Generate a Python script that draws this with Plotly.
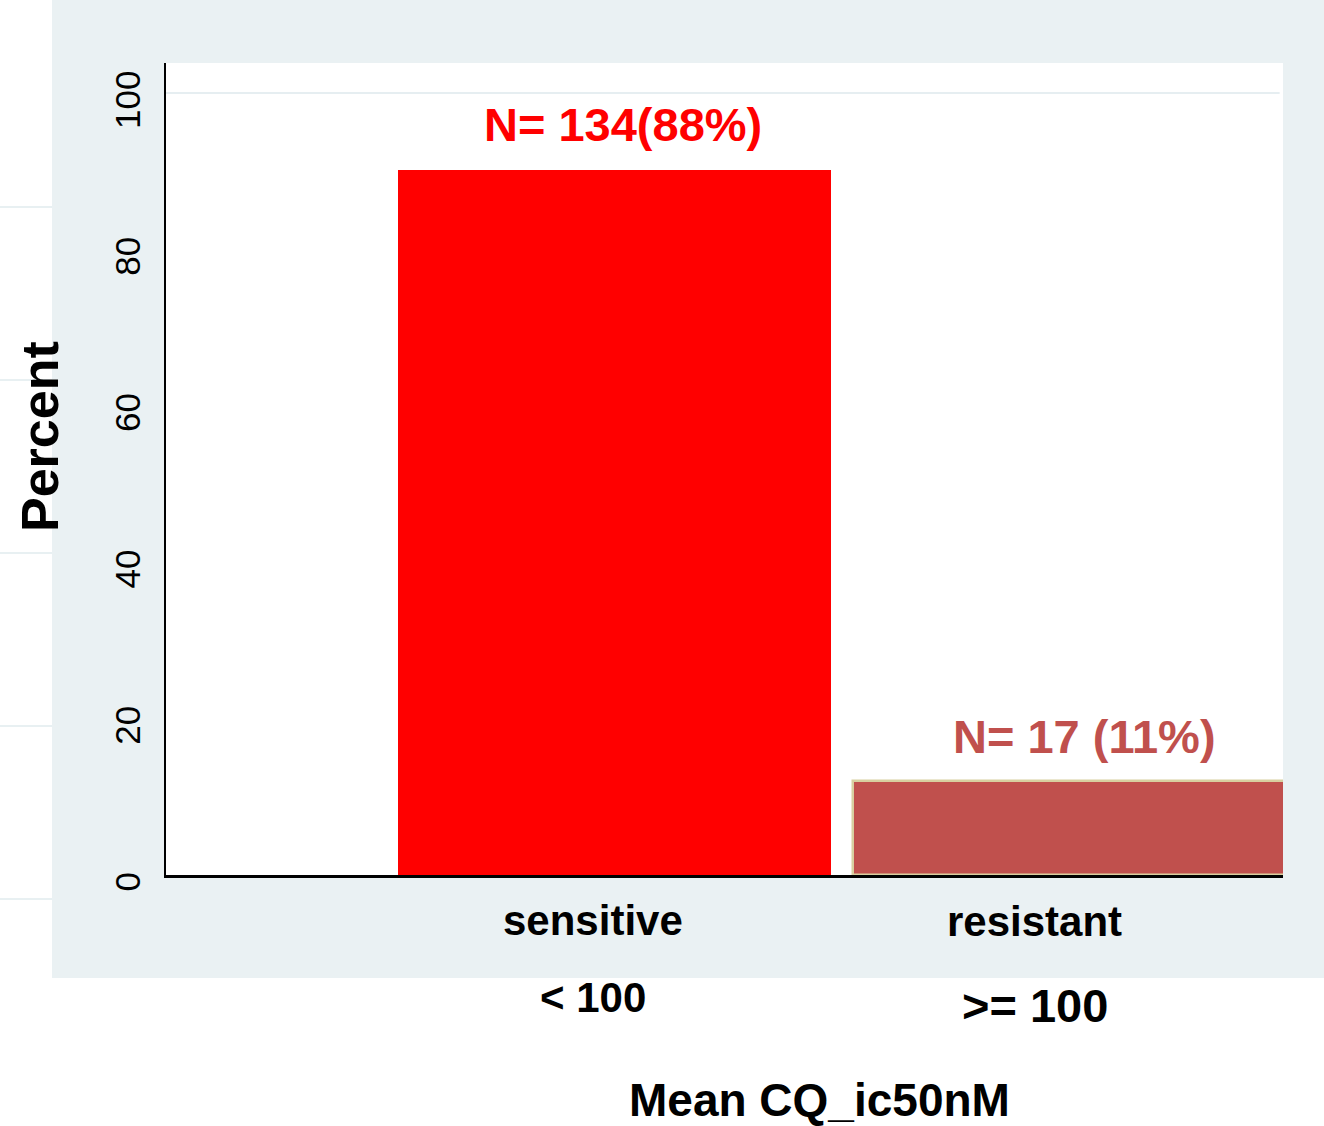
import plotly.graph_objects as go

categories = ["sensitive", "resistant"]
thresholds = ["< 100", ">= 100"]
percent = [90.2, 12.0]
bar_labels = ["N= 134(88%)", "N= 17 (11%)"]
y_ticks = [0, 20, 40, 60, 80, 100]

W, H = 1324, 1126
L, R, T, B = 166, 1283, 63, 875
pw, ph = R - L, B - T

def px(x):
    return (x - L) / pw

def py(y):
    return (B - y) / ph

FONT = "Arial, Liberation Sans, sans-serif"
bar_colors = ["#FF0000", "#C0504D"]
line_colors = ["#FF0000", "#D8CFA0"]
label_colors = ["#FF0000", "#C0504D"]

fig = go.Figure()
fig.add_trace(go.Bar(
    x=categories, y=percent, width=0.952,
    marker=dict(color=bar_colors, line=dict(color=line_colors, width=[0, 2.5])),
    showlegend=False, hoverinfo="skip", cliponaxis=False,
))

shapes = [
    dict(type="rect", xref="paper", yref="paper", x0=px(52), x1=px(1324 + 5), y0=py(978), y1=py(0 - 5),
         fillcolor="#EAF1F3", line=dict(width=0), layer="below"),
    dict(type="rect", xref="paper", yref="paper", x0=0, x1=1, y0=0, y1=1,
         fillcolor="#FFFFFF", line=dict(width=0), layer="below"),
    dict(type="line", xref="paper", yref="y", x0=0, x1=0.997, y0=100, y1=100,
         line=dict(color="#E6EEF1", width=2), layer="below"),
]
for yy in [207, 380, 553, 726, 899]:
    shapes.append(dict(type="line", xref="paper", yref="paper", x0=px(0), x1=px(52), y0=py(yy), y1=py(yy),
                       line=dict(color="#E8F0F2", width=2), layer="below"))

annotations = []
label_xshift = [8, 15]
for i, (c, v, t) in enumerate(zip(categories, percent, bar_labels)):
    annotations.append(dict(x=c, y=v, xref="x", yref="y", text="<b>%s</b>" % t, showarrow=False,
                            xshift=label_xshift[i], yshift=45, yanchor="middle",
                            font=dict(family=FONT, size=47, color=label_colors[i])))
cat_xshift = [-22, -35]
cat_y = [py(920), py(922)]
thr_y = [py(997), py(1005)]
thr_size = [42, 47]
for i, c in enumerate(categories):
    annotations.append(dict(x=c, y=cat_y[i], xref="x", yref="paper", text="<b>%s</b>" % c, showarrow=False,
                            xshift=cat_xshift[i], yanchor="middle",
                            font=dict(family=FONT, size=42, color="#000000")))
    annotations.append(dict(x=c, y=thr_y[i], xref="x", yref="paper", text="<b>%s</b>" % thresholds[i].replace("<", "&lt;").replace(">", "&gt;"),
                            showarrow=False, xshift=cat_xshift[i], yanchor="middle",
                            font=dict(family=FONT, size=thr_size[i], color="#000000")))
annotations.append(dict(x=px(819), y=py(1100), xref="paper", yref="paper", text="<b>Mean CQ_ic50nM</b>",
                        showarrow=False, yanchor="middle", font=dict(family=FONT, size=46, color="#000000")))
annotations.append(dict(x=px(40), y=py(437), xref="paper", yref="paper", text="<b>Percent</b>", textangle=-90,
                        showarrow=False, xanchor="center", yanchor="middle",
                        font=dict(family=FONT, size=52, color="#000000")))

fig.update_layout(
    width=W, height=H,
    margin=dict(l=L, r=W - R, t=T, b=H - B, pad=0),
    paper_bgcolor="#FFFFFF", plot_bgcolor="rgba(0,0,0,0)",
    shapes=shapes, annotations=annotations,
    xaxis=dict(range=[-0.986, 1.469], showticklabels=False, ticks="", showgrid=False, zeroline=False,
               showline=True, linecolor="#000000", linewidth=2.5, fixedrange=True),
    yaxis=dict(range=[0, 103.84], tickvals=y_ticks, ticktext=[str(v) for v in y_ticks], tickangle=-90,
               ticks="", showgrid=False, zeroline=False, showline=True, linecolor="#000000", linewidth=2,
               tickfont=dict(family=FONT, size=35, color="#000000"), ticklabelstandoff=10,
               ticklabelshift=12),
    bargap=0,
)

fig.write_html("out.html")
